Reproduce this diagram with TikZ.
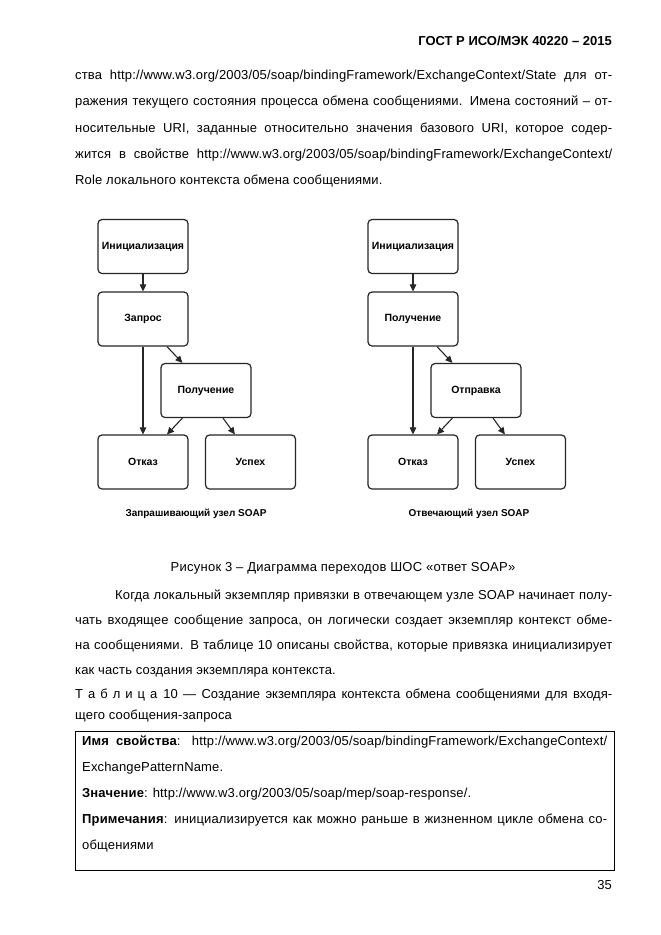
\documentclass[tikz,border=0pt]{standalone}
\usepackage{fontspec}
\setmainfont{Liberation Sans}
\newfontfamily\bodyf[LetterSpace=1.2]{Liberation Sans}
\newfontfamily\capf[LetterSpace=2]{Liberation Sans}
\usetikzlibrary{arrows.meta}
\newcommand{\jl}[1]{\makebox[537pt][s]{#1}}
\newcommand{\tjl}[1]{\makebox[525pt][s]{#1}}
\begin{document}
\begin{tikzpicture}[x=1pt,y=-1pt,
  st/.style={draw=black!85, line width=1.2pt, rounded corners=4pt, fill=white,
    minimum width=90pt, minimum height=54pt, inner sep=0pt,
    font=\fontsize{10.5}{12}\selectfont\bfseries},
  arr/.style={-{Triangle[length=7pt,width=6.5pt]}, line width=1.1pt, draw=black!85},
  body/.style={anchor=base west, inner sep=0pt, font=\bodyf\fontsize{13}{15}\selectfont},
  dcap/.style={anchor=base, inner sep=0pt, font=\fontsize{10}{12}\selectfont\bfseries}
]
\useasboundingbox (0,0) rectangle (661,935);
\fill[white] (0,0) rectangle (661,935);

% header
\node[anchor=base east, inner sep=0pt, font=\fontsize{13}{15}\selectfont\bfseries] (hdr) at (612,45) {ГОСТ Р ИСО/МЭК 40220 – 2015};

% top paragraph
\node[body] (p1) at (75,79) {\jl{ства http://www.w3.org/2003/05/soap/bindingFramework/ExchangeContext/State для от-}};
\node[body] (p2) at (75,105) {\jl{ражения текущего состояния процесса обмена сообщениями. Имена состояний – от-}};
\node[body] (p3) at (75,132) {\jl{носительные URI, заданные относительно значения базового URI, которое содер-}};
\node[body] (p4) at (75,158) {\jl{жится в свойстве http://www.w3.org/2003/05/soap/bindingFramework/ExchangeContext/}};
\node[body] (p5) at (75,184) {Role локального контекста обмена сообщениями.};

% left diagram
\node[st] (Linit) at (143,246.5) {Инициализация};
\node[st] (Lzap) at (143,319) {Запрос};
\node[st] (Lpol) at (206,390.5) {Получение};
\node[st] (Lotk) at (143,462) {Отказ};
\node[st] (Lusp) at (250.5,462) {Успех};
\draw[arr] (Linit) -- (Lzap);
\draw[arr] (Lzap) -- (Lotk);
\draw[arr] ([xshift=24pt]Lzap.south) -- ([xshift=22pt]Lpol.north west);
\draw[arr] ([xshift=22pt]Lpol.south west) -- ([xshift=24pt]Lotk.north);
\draw[arr] ([xshift=17pt]Lpol.south) -- ([xshift=30pt]Lusp.north west);
\node[dcap] (Lcap) at (196,516) {Запрашивающий узел SOAP};

% right diagram
\node[st] (Rinit) at (413,246.5) {Инициализация};
\node[st] (Rpol) at (413,319) {Получение};
\node[st] (Rotp) at (476,390.5) {Отправка};
\node[st] (Rotk) at (413,462) {Отказ};
\node[st] (Rusp) at (520.5,462) {Успех};
\draw[arr] (Rinit) -- (Rpol);
\draw[arr] (Rpol) -- (Rotk);
\draw[arr] ([xshift=24pt]Rpol.south) -- ([xshift=22pt]Rotp.north west);
\draw[arr] ([xshift=22pt]Rotp.south west) -- ([xshift=24pt]Rotk.north);
\draw[arr] ([xshift=17pt]Rotp.south) -- ([xshift=30pt]Rusp.north west);
\node[dcap] (Rcap) at (469,516) {Отвечающий узел SOAP};

% figure caption
\node[anchor=base, inner sep=0pt, font=\capf\fontsize{13}{15}\selectfont] (fig) at (343,571) {Рисунок 3 – Диаграмма переходов ШОС «ответ SOAP»};

% second paragraph
\node[body] (q1) at (115,599) {\makebox[497pt][s]{Когда локальный экземпляр привязки в отвечающем узле SOAP начинает полу-}};
\node[body] (q2) at (75,624) {\jl{чать входящее сообщение запроса, он логически создает экземпляр контекст обме-}};
\node[body] (q3) at (75,649) {\jl{на сообщениями. В таблице 10 описаны свойства, которые привязка инициализирует}};
\node[body] (q4) at (75,674) {как часть создания экземпляра контекста.};

% table caption
\node[body, font=\fontsize{13}{15}\selectfont] (c1) at (75,698) {\jl{Т\kern5ptа\kern5ptб\kern5ptл\kern5ptи\kern5ptц\kern5ptа\kern6pt 10 — Создание экземпляра контекста обмена сообщениями для входя-}};
\node[body] (c2) at (75,719) {щего сообщения-запроса};

% table
\draw[line width=0.8pt] (75,731) rectangle (614,870);
\node[body] (r1) at (82,745) {\tjl{\textbf{Имя свойства}: http://www.w3.org/2003/05/soap/bindingFramework/ExchangeContext/}};
\node[body] (r2) at (82,771) {ExchangePatternName.};
\node[body] (r3) at (82,797) {\textbf{Значение}: http://www.w3.org/2003/05/soap/mep/soap-response/.};
\node[body] (r4) at (82,823) {\tjl{\textbf{Примечания}: инициализируется как можно раньше в жизненном цикле обмена со-}};
\node[body] (r5) at (82,849) {общениями};

% page number
\node[anchor=base east, inner sep=0pt, font=\fontsize{13}{15}\selectfont] (pg) at (612,889) {35};
\end{tikzpicture}
\end{document}
